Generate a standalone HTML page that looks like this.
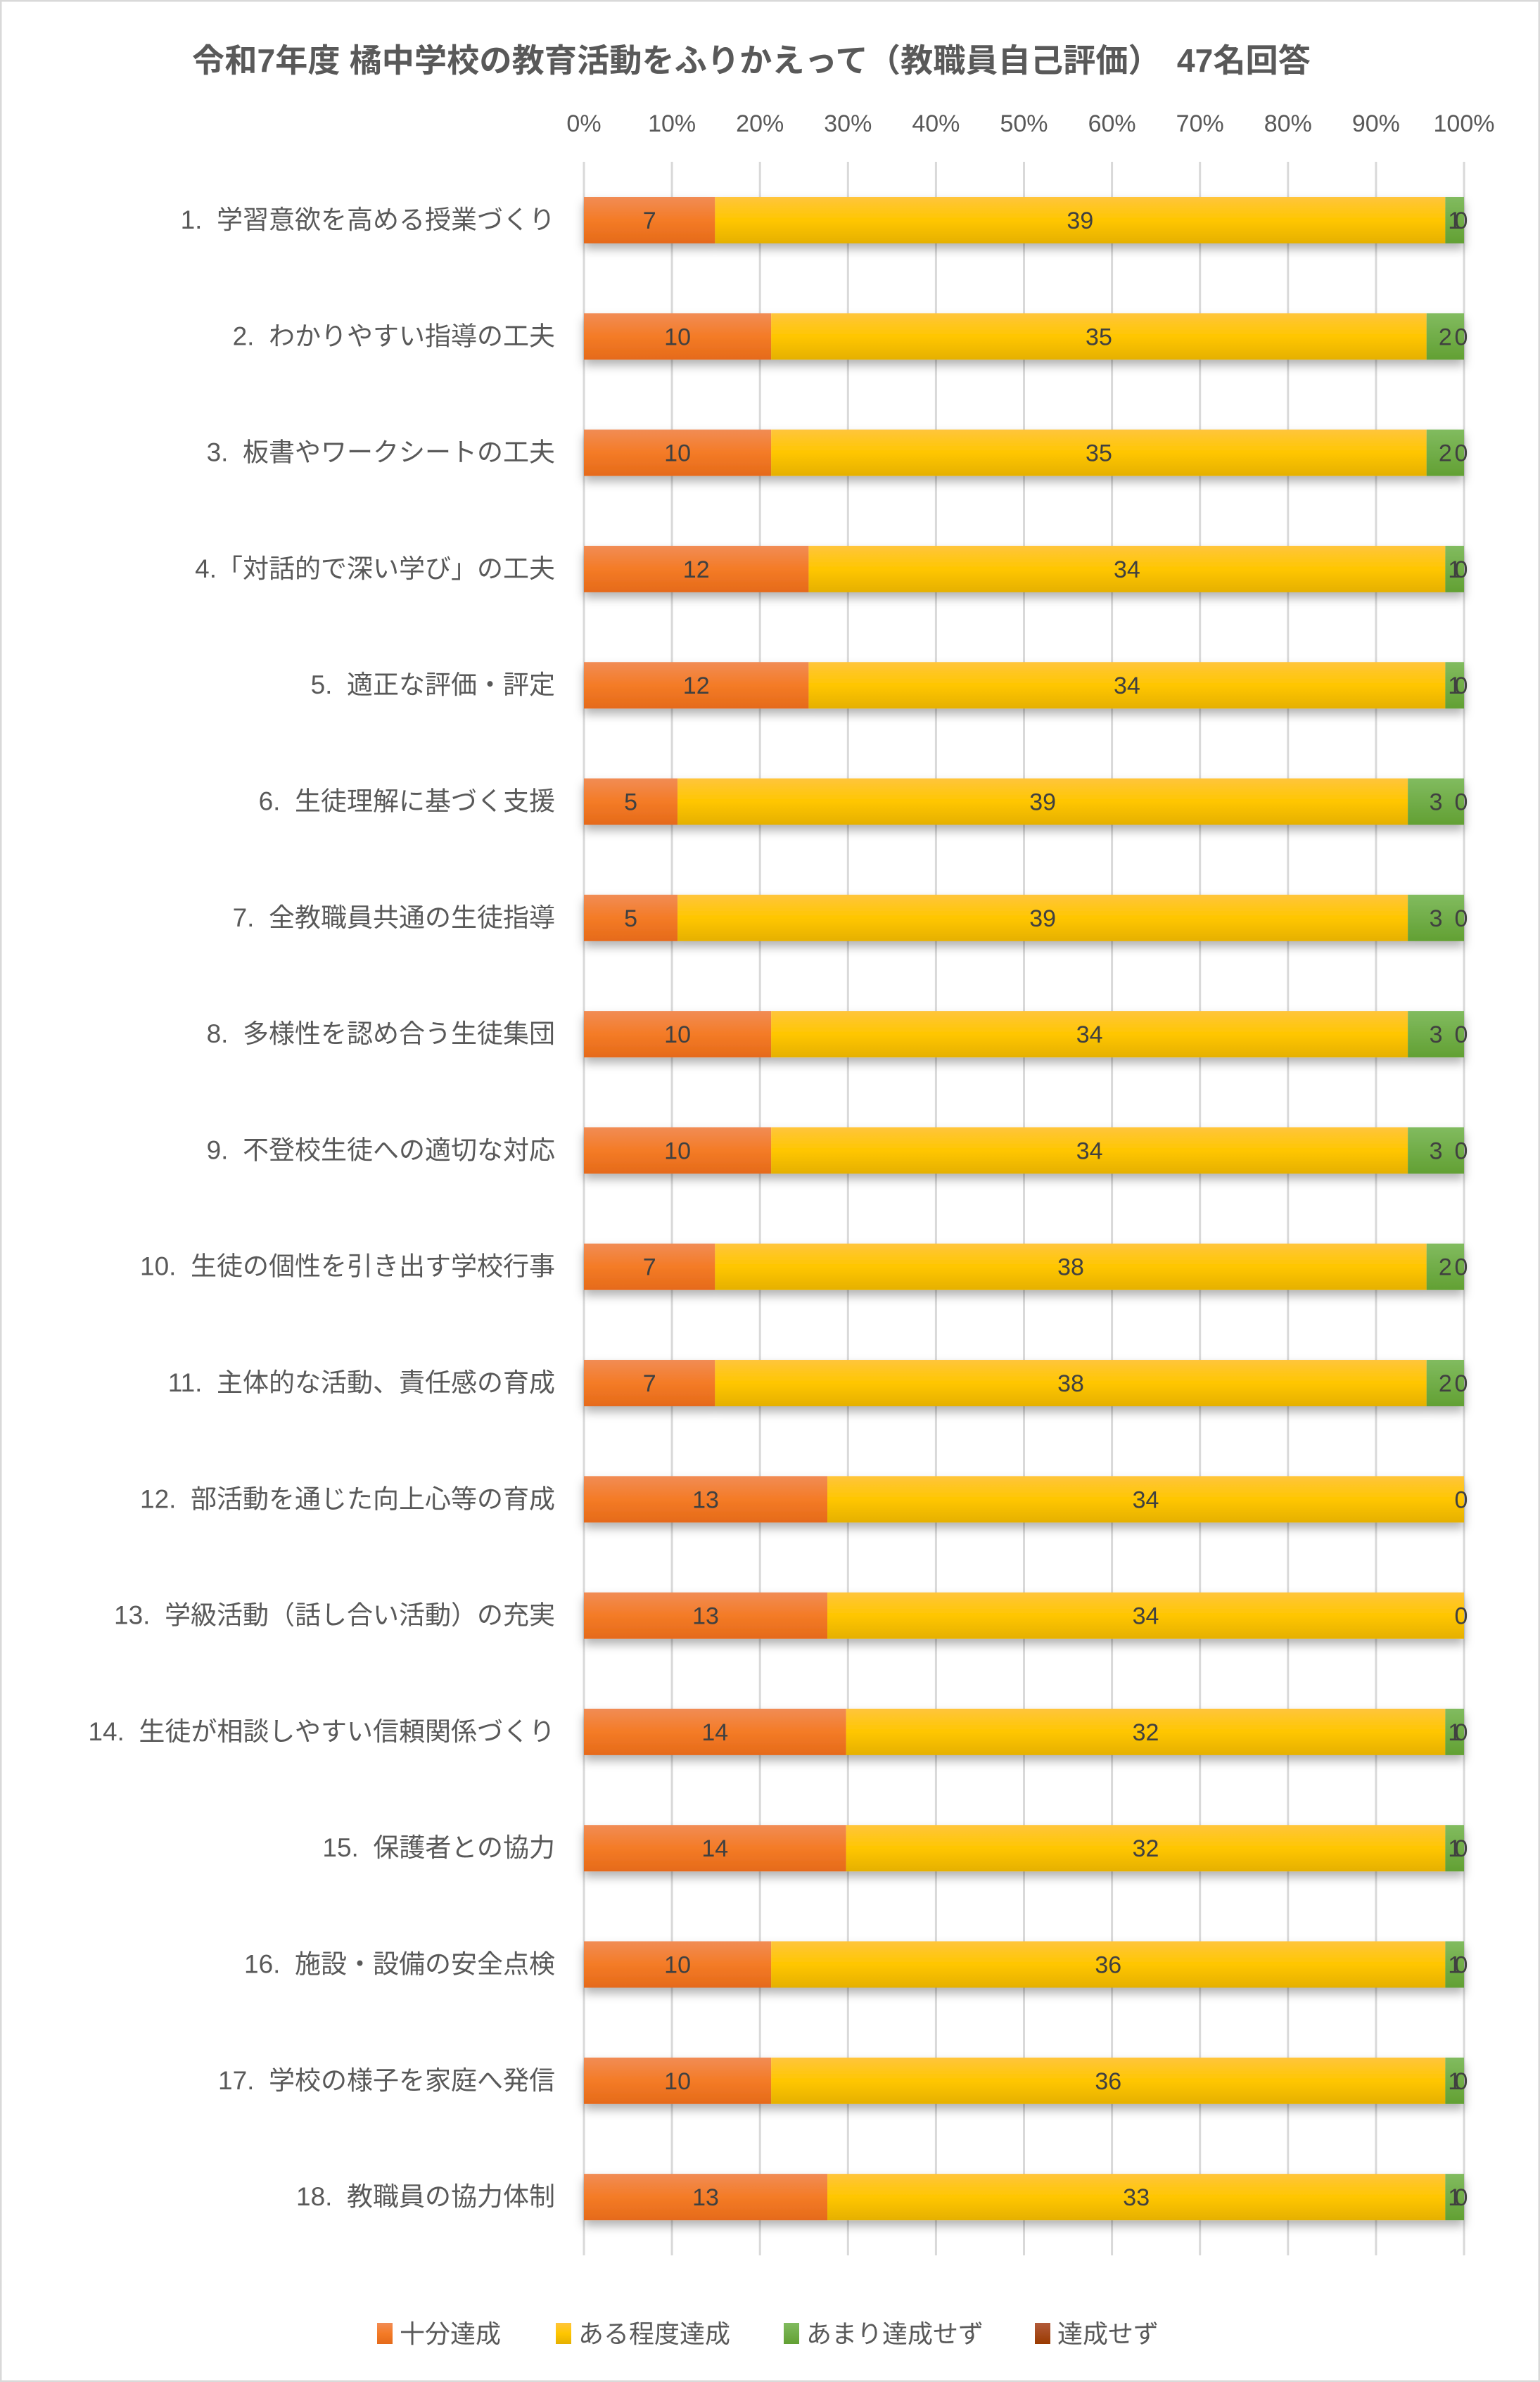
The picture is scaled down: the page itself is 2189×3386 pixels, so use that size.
<!DOCTYPE html>
<html><head><meta charset="utf-8">
<style>
html,body{margin:0;padding:0;background:#fff;}
#c{position:relative;width:2189px;height:3386px;overflow:hidden;}
svg text{font-family:"Liberation Sans","Noto Sans CJK JP",sans-serif;}
</style></head>
<body><div id="c">
<svg id="s" width="2189" height="3386" viewBox="0 0 2189 3386" xmlns="http://www.w3.org/2000/svg">
<defs>
<linearGradient id="go" x1="0" y1="0" x2="0" y2="1"><stop offset="0" stop-color="#F18C55"/><stop offset="0.5" stop-color="#F47B26"/><stop offset="1" stop-color="#E56A1A"/></linearGradient>
<linearGradient id="gy" x1="0" y1="0" x2="0" y2="1"><stop offset="0" stop-color="#FFC53C"/><stop offset="0.5" stop-color="#FFC600"/><stop offset="1" stop-color="#E5B000"/></linearGradient>
<linearGradient id="gg" x1="0" y1="0" x2="0" y2="1"><stop offset="0" stop-color="#81BB5F"/><stop offset="1" stop-color="#62A033"/></linearGradient>
<linearGradient id="gr" x1="0" y1="0" x2="0" y2="1"><stop offset="0" stop-color="#B25B3A"/><stop offset="1" stop-color="#9A3A00"/></linearGradient>
<filter id="sh" x="-5%" y="-30%" width="110%" height="180%"><feDropShadow dx="0" dy="8" stdDeviation="7" flood-color="#000" flood-opacity="0.3"/></filter>
</defs>
<rect x="1" y="1" width="2187" height="3384" fill="#fff" stroke="#d9d9d9" stroke-width="3"/>
<text x="1068" y="102" text-anchor="middle" font-size="46" font-weight="bold" fill="#595959" textLength="1590" lengthAdjust="spacingAndGlyphs">令和7年度 橘中学校の教育活動をふりかえって（教職員自己評価）　47名回答</text>
<g id="grid"></g>
<g id="bars"></g>
<g id="legend" font-size="36" fill="#595959">
<rect x="536" y="3302" width="22" height="30" fill="url(#go)"/><text x="568" y="3330">十分達成</text>
<rect x="790" y="3302" width="22" height="30" fill="url(#gy)"/><text x="822" y="3330">ある程度達成</text>
<rect x="1114" y="3302" width="22" height="30" fill="url(#gg)"/><text x="1146" y="3330">あまり達成せず</text>
<rect x="1471" y="3302" width="22" height="30" fill="url(#gr)"/><text x="1503" y="3330">達成せず</text>
</g>
</svg>
</div>
<script>
(function(){
var L=830,W=1251,NS="http://www.w3.org/2000/svg";
function el(t,a,txt){var e=document.createElementNS(NS,t);for(var k in a)e.setAttribute(k,a[k]);if(txt!=null)e.textContent=txt;return e;}
var grid=document.getElementById('grid'),bars=document.getElementById('bars');
for(var i=0;i<=10;i++){var x=L+W*i/10;
grid.appendChild(el('line',{x1:x,y1:230,x2:x,y2:3206,stroke:'#d9d9d9','stroke-width':3}));
grid.appendChild(el('text',{x:x,y:187,'text-anchor':'middle','font-size':34,fill:'#595959'},(i*10)+'%'));}
var cats=["1.  学習意欲を高める授業づくり","2.  わかりやすい指導の工夫","3.  板書やワークシートの工夫","4.「対話的で深い学び」の工夫","5.  適正な評価・評定","6.  生徒理解に基づく支援","7.  全教職員共通の生徒指導","8.  多様性を認め合う生徒集団","9.  不登校生徒への適切な対応","10.  生徒の個性を引き出す学校行事","11.  主体的な活動、責任感の育成","12.  部活動を通じた向上心等の育成","13.  学級活動（話し合い活動）の充実","14.  生徒が相談しやすい信頼関係づくり","15.  保護者との協力","16.  施設・設備の安全点検","17.  学校の様子を家庭へ発信","18.  教職員の協力体制"];
var d=[[7,39,1],[10,35,2],[10,35,2],[12,34,1],[12,34,1],[5,39,3],[5,39,3],[10,34,3],[10,34,3],[7,38,2],[7,38,2],[13,34,0],[13,34,0],[14,32,1],[14,32,1],[10,36,1],[10,36,1],[13,33,1]];
var fills=['url(#go)','url(#gy)','url(#gg)'];
for(var r=0;r<18;r++){var ty=280+r*165.3,cy=ty+33,xx=L,g=el('g',{filter:'url(#sh)'});
var labs=[];
for(var k=0;k<3;k++){var v=d[r][k];if(!v)continue;var w=v/47*W;
g.appendChild(el('rect',{x:xx,y:ty,width:w,height:66,fill:fills[k]}));labs.push([xx+w/2,v]);xx+=w;}
bars.appendChild(g);
for(var j=0;j<labs.length;j++)bars.appendChild(el('text',{x:labs[j][0],y:cy+12,'text-anchor':'middle','font-size':34,fill:'#404040'},labs[j][1]));
bars.appendChild(el('text',{x:2077,y:cy+12,'text-anchor':'middle','font-size':34,fill:'#404040'},'0'));
var t=el('text',{x:789,y:cy+12,'text-anchor':'end','font-size':37,fill:'#595959'},cats[r]);t.setAttribute('xml:space','preserve');t.style.whiteSpace='pre';
bars.appendChild(t);}
})();
</script>
</body></html>
